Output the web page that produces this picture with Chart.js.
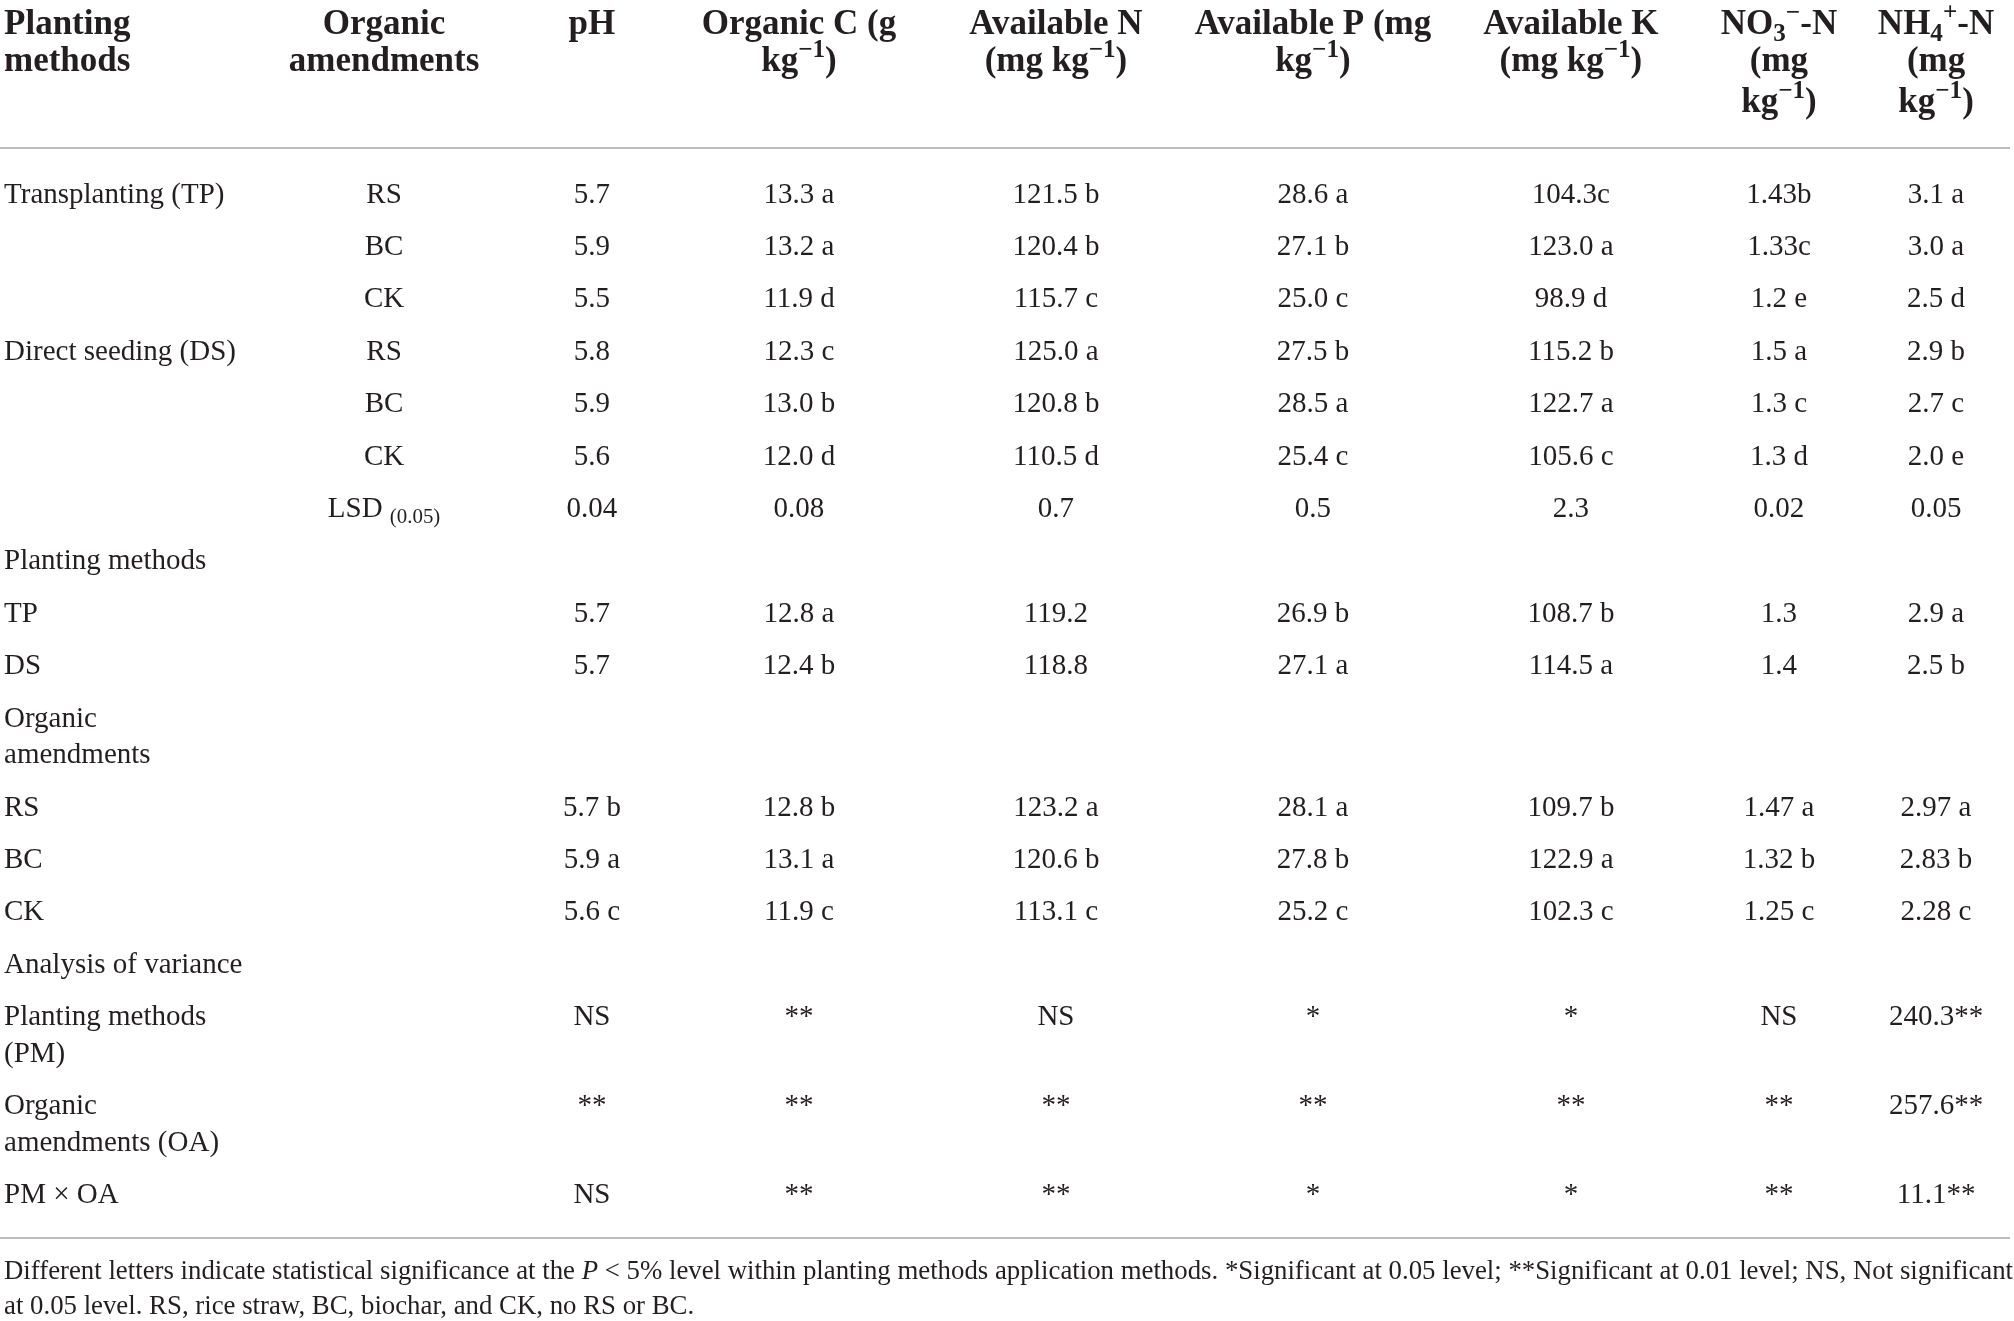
<!DOCTYPE html>
<html>
<head>
<meta charset="utf-8">
<script src="https://cdn.jsdelivr.net/npm/chart.js@4/dist/chart.umd.min.js"></script>
<style>
  html, body { margin: 0; padding: 0; background: #fff; }
  #wrap { width: 2014px; height: 1321px; position: relative; }
</style>
</head>
<body>
<div id="wrap"><canvas id="soilTable"></canvas></div>
<script>
// Column headers, one entry per header line. _{..} subscript, ^{..} superscript
const headers = [
    ['Planting', 'methods'],
    ['Organic', 'amendments'],
    ['pH'],
    ['Organic C (g', 'kg^{−1})'],
    ['Available N', '(mg kg^{−1})'],
    ['Available P (mg', 'kg^{−1})'],
    ['Available K', '(mg kg^{−1})'],
    ['NO_{3}^{−}-N', '(mg', 'kg^{−1})'],
    ['NH_{4}^{+}-N', '(mg', 'kg^{−1})']
];

// Table body, one array per column
const rowLabels = ['Transplanting (TP)', '', '', 'Direct seeding (DS)', '', '', '', 'Planting methods', 'TP', 'DS',
    'Organic\namendments', 'RS', 'BC', 'CK', 'Analysis of variance', 'Planting methods\n(PM)',
    'Organic\namendments (OA)', 'PM × OA'];
const amendments = ['RS', 'BC', 'CK', 'RS', 'BC', 'CK', 'LSD _{(0.05)}', '', '', '', '', '', '', '', '', '', '', ''];
const phValues = ['5.7', '5.9', '5.5', '5.8', '5.9', '5.6', '0.04', '', '5.7', '5.7', '', '5.7 b', '5.9 a', '5.6 c', '', 'NS', '**', 'NS'];
const organicC = ['13.3 a', '13.2 a', '11.9 d', '12.3 c', '13.0 b', '12.0 d', '0.08', '', '12.8 a', '12.4 b', '', '12.8 b', '13.1 a', '11.9 c', '', '**', '**', '**'];
const availableN = ['121.5 b', '120.4 b', '115.7 c', '125.0 a', '120.8 b', '110.5 d', '0.7', '', '119.2', '118.8', '', '123.2 a', '120.6 b', '113.1 c', '', 'NS', '**', '**'];
const availableP = ['28.6 a', '27.1 b', '25.0 c', '27.5 b', '28.5 a', '25.4 c', '0.5', '', '26.9 b', '27.1 a', '', '28.1 a', '27.8 b', '25.2 c', '', '*', '**', '*'];
const availableK = ['104.3c', '123.0 a', '98.9 d', '115.2 b', '122.7 a', '105.6 c', '2.3', '', '108.7 b', '114.5 a', '', '109.7 b', '122.9 a', '102.3 c', '', '*', '**', '*'];
const no3N = ['1.43b', '1.33c', '1.2 e', '1.5 a', '1.3 c', '1.3 d', '0.02', '', '1.3', '1.4', '', '1.47 a', '1.32 b', '1.25 c', '', 'NS', '**', '**'];
const nh4N = ['3.1 a', '3.0 a', '2.5 d', '2.9 b', '2.7 c', '2.0 e', '0.05', '', '2.9 a', '2.5 b', '', '2.97 a', '2.83 b', '2.28 c', '', '240.3**', '257.6**', '11.1**'];

// Footnote lines, ~{..} is italic
const footnotes = [
    'Different letters indicate statistical significance at the ~{P} < 5% level within planting methods application methods. *Significant at 0.05 level; **Significant at 0.01 level; NS, Not significant',
    'at 0.05 level. RS, rice straw, BC, biochar, and CK, no RS or BC.'
];

// Layout (column centres as a fraction of the width, rows in "row" units)
const columns = [rowLabels, amendments, phValues, organicC, availableN, availableP, availableK, no3N, nh4N];
const colX = [0.002, 0.1907, 0.2939, 0.3967, 0.5243, 0.6519, 0.7800, 0.8833, 0.9613];
const LINE_STEP = 0.70;     // extra line inside a cell
const HEAD_Y = [-3.25, -2.55, -1.76];
const RULE_TOP = -0.86;
const TEXT_COLOR = '#231f20';
const BODY_FS = 29;
const HEAD_FS = 35;

// position of each row, taller rows push the following ones down
const rowPos = [];
let pos = 0;
rowLabels.forEach(label => {
    rowPos.push(pos);
    pos += 1 + (label.split('\n').length - 1) * LINE_STEP;
});
const lastRow = rowPos[rowPos.length - 1];

function richSegments(str) {
    const segs = [];
    const re = /([_^~])\{([^}]*)\}/g;
    let last = 0, m;
    while ((m = re.exec(str)) !== null) {
        if (m.index > last) segs.push({ t: str.slice(last, m.index), k: '' });
        segs.push({ t: m[2], k: m[1] });
        last = re.lastIndex;
    }
    if (last < str.length) segs.push({ t: str.slice(last), k: '' });
    return segs;
}

function fontFor(k, fs, bold) {
    const size = (k === '_' || k === '^') ? fs * 0.72 : fs;
    return (k === '~' ? 'italic ' : '') + (bold ? 'bold ' : '') + size.toFixed(1) + 'px "Liberation Serif", serif';
}

function richWidth(ctx, str, fs, bold) {
    let w = 0;
    richSegments(str).forEach(s => { ctx.font = fontFor(s.k, fs, bold); w += ctx.measureText(s.t).width; });
    return w;
}

function drawRich(ctx, str, x, yMid, align, fs, bold) {
    const segs = richSegments(str);
    let w = 0;
    segs.forEach(s => { ctx.font = fontFor(s.k, fs, bold); s.w = ctx.measureText(s.t).width; w += s.w; });
    let cx = align === 'left' ? x : x - w / 2;
    const base = yMid + fs * 0.33;
    ctx.textAlign = 'left';
    ctx.textBaseline = 'alphabetic';
    segs.forEach(s => {
        ctx.font = fontFor(s.k, fs, bold);
        let dy = 0;
        if (s.k === '^') dy = -fs * 0.4;
        if (s.k === '_') dy = fs * 0.2;
        ctx.fillText(s.t, cx, base + dy);
        cx += s.w;
    });
}

const tablePlugin = {
    id: 'tableText',
    afterDatasetsDraw(chart) {
        const ctx = chart.ctx;
        const xs = chart.scales.x, ys = chart.scales.y;
        const lineGap = ys.getPixelForValue(LINE_STEP) - ys.getPixelForValue(0);
        ctx.save();

        // horizontal rules
        ctx.strokeStyle = '#bdbdbd';
        ctx.lineWidth = 2;
        [RULE_TOP, lastRow + 0.85].forEach(v => {
            const py = Math.round(ys.getPixelForValue(v));
            ctx.beginPath();
            ctx.moveTo(xs.left, py);
            ctx.lineTo(xs.right - 4, py);
            ctx.stroke();
        });

        ctx.fillStyle = TEXT_COLOR;
        // header
        headers.forEach((lines, c) => {
            lines.forEach((ln, k) => {
                drawRich(ctx, ln, xs.getPixelForValue(colX[c]), ys.getPixelForValue(HEAD_Y[k]),
                    c === 0 ? 'left' : 'center', HEAD_FS, true);
            });
        });

        // body cells, placed at the points of each dataset
        chart.data.datasets.forEach((ds, c) => {
            const meta = chart.getDatasetMeta(c);
            meta.data.forEach((pt, i) => {
                const cell = ds.data[i];
                cell.text.split('\n').forEach((ln, k) => {
                    drawRich(ctx, ln, pt.x, pt.y + k * lineGap, c === 0 ? 'left' : 'center', BODY_FS, false);
                });
            });
        });

        // footnote, sized to fill the table width
        const fullW = xs.right - xs.left - 6;
        const fnFs = 24 * fullW / richWidth(ctx, footnotes[0], 24, false);
        footnotes.forEach((ln, k) => {
            drawRich(ctx, ln, xs.left + 4, ys.getPixelForValue(lastRow + 1.45 + k * 0.68), 'left', fnFs, false);
        });
        ctx.restore();
    }
};

const datasets = columns.map((col, c) => ({
    label: headers[c].join(' '),
    data: col.map((text, i) => ({ x: colX[c], y: rowPos[i], text: text }))
        .filter(d => d.text !== ''),
    pointRadius: 0,
    pointHoverRadius: 0
}));

new Chart(document.getElementById('soilTable'), {
    type: 'scatter',
    data: { datasets: datasets },
    plugins: [tablePlugin],
    options: {
        responsive: true,
        maintainAspectRatio: false,
        animation: false,
        events: [],
        layout: { padding: 0 },
        plugins: { legend: { display: false }, tooltip: { enabled: false } },
        scales: {
            x: { type: 'linear', min: 0, max: 1, display: false },
            y: { type: 'linear', reverse: true, min: -3.683, max: 21.527, display: false }
        }
    }
});
</script>
</body>
</html>
